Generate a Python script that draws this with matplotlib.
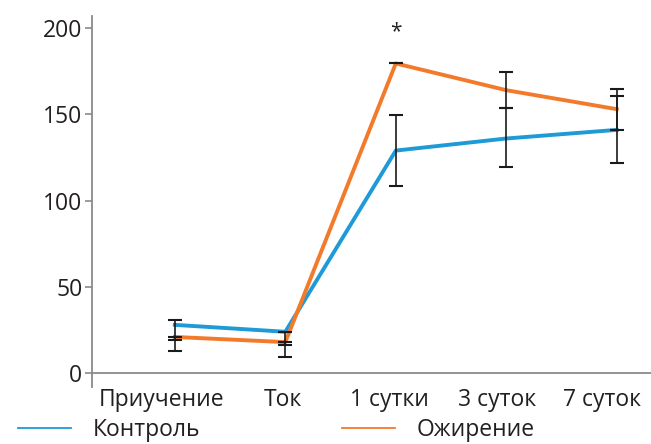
import matplotlib
matplotlib.use("Agg")
import matplotlib.pyplot as plt
import matplotlib.transforms as mtransforms
from matplotlib.lines import Line2D

categories = ["Приучение", "Ток", "1 сутки", "3 суток", "7 суток"]
control = [28, 24, 129, 136, 141]
control_err_lo = [8.5, 7.8, 20.5, 16.8, 19.3]
control_err_hi = [2.7, 0, 20.5, 17.4, 19.6]
obesity = [21, 18, 179.5, 164, 153]
obesity_err_lo = [8.3, 8.7, 0, 10.5, 12]
obesity_err_hi = [0, 0, 0.5, 10.5, 11.6]
yticks = [0, 50, 100, 150, 200]

plt.rcParams['font.family'] = ['Open Sans', 'DejaVu Sans']

BLUE = "#1e9bd7"
ORANGE = "#f37a2b"
TEXT = "#231f20"
AX = "#8a8a8a"
FS = 16.5

fig = plt.figure(figsize=(6.51, 4.44), dpi=100)
ax = fig.add_axes([0.1413, 0.1284, 0.8587, 0.8356])

x = list(range(len(categories)))
ax.plot(x, control, color=BLUE, lw=2.8, zorder=3)
ax.plot(x, obesity, color=ORANGE, lw=2.8, zorder=3)
ax.errorbar(x, control, yerr=[control_err_lo, control_err_hi], fmt='none',
            ecolor="#1a1a1a", elinewidth=1.2, capsize=5, capthick=1.5, zorder=4)
ax.errorbar(x, obesity, yerr=[obesity_err_lo, obesity_err_hi], fmt='none',
            ecolor="#1a1a1a", elinewidth=1.2, capsize=5, capthick=1.5, zorder=4)

ax.text(2, 198, "*", ha='center', va='center', fontsize=15, color=TEXT)

ax.set_xlim(-0.75, 4.31)
ax.set_ylim(-8, 207)
ax.spines['top'].set_visible(False)
ax.spines['right'].set_visible(False)
ax.spines['bottom'].set_position(('data', 0))
for s in ('left', 'bottom'):
    ax.spines[s].set_color(AX)
    ax.spines[s].set_linewidth(1.3)

ax.set_yticks(yticks)
ax.tick_params(axis='y', direction='out', length=5, width=1.2, color=AX,
               labelsize=FS, labelcolor=TEXT, pad=2)
ax.set_xticks(x)
ax.set_xticklabels(categories)
ax.tick_params(axis='x', length=0, labelsize=FS, labelcolor=TEXT, pad=11)
label_shift_px = [-13, -2, -6, -9, -15]
for lab, dx in zip(ax.get_xticklabels(), label_shift_px):
    off = mtransforms.ScaledTranslation(dx / 100, 0, fig.dpi_scale_trans)
    lab.set_transform(lab.get_transform() + off)

handles = [Line2D([], [], color=BLUE, lw=1.3), Line2D([], [], color=ORANGE, lw=1.3)]
fig.legend(handles, ["Контроль", "Ожирение"], loc='lower left',
           bbox_to_anchor=(-0.004, -0.042), ncol=2, frameon=False,
           fontsize=FS, handlelength=2.3, handletextpad=0.95,
           columnspacing=6.2, labelcolor=TEXT)

fig.savefig("out.png", dpi=100)
